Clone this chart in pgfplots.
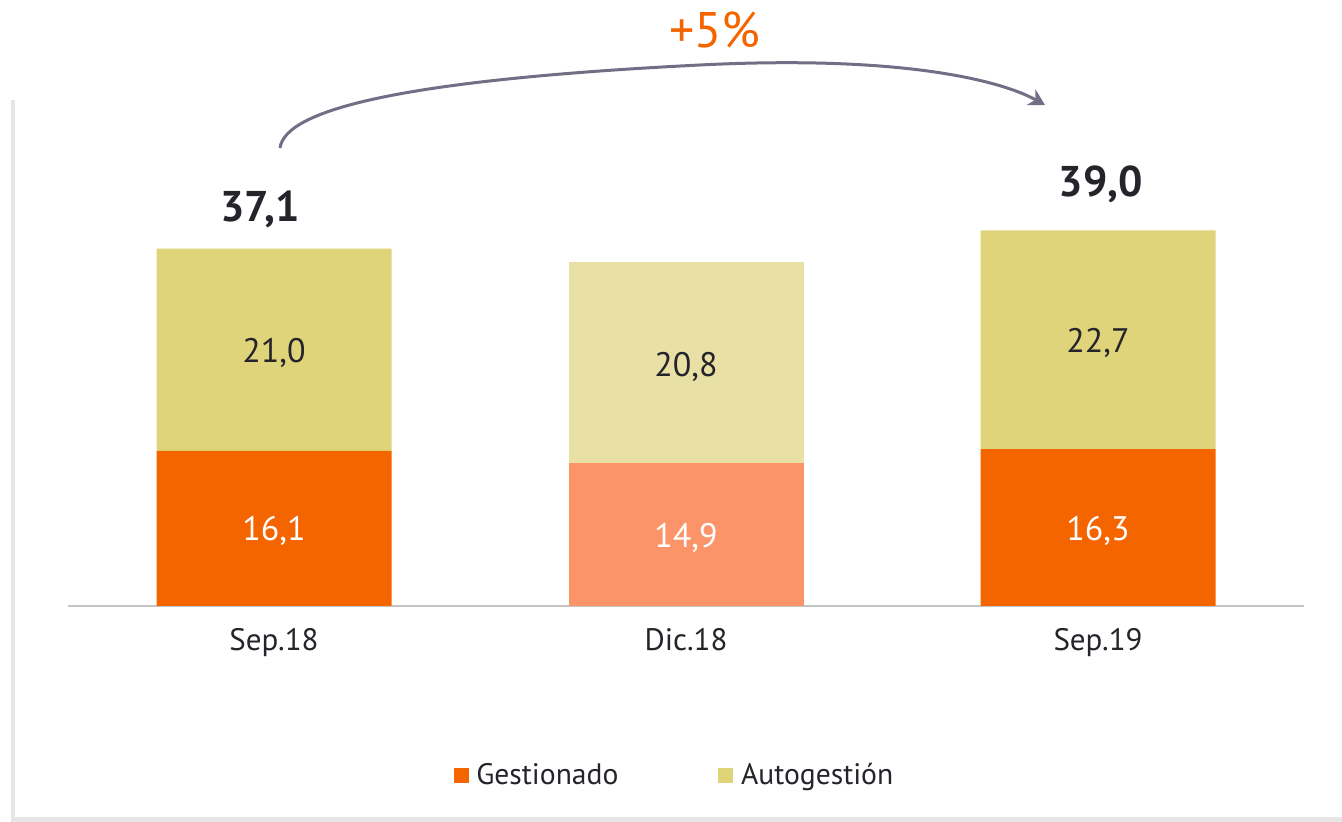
\documentclass[border=0pt]{standalone}
\usepackage{pgfplots}
\pgfplotsset{compat=1.18}
\usepackage{fontspec}
\setmainfont{PT Sans}
\usetikzlibrary{arrows.meta}
\definecolor{orng}{HTML}{F46500}
\definecolor{orngl}{HTML}{FC9469}
\definecolor{yel}{HTML}{E0D47A}
\definecolor{yell}{HTML}{E8E0A4}
\definecolor{txtc}{HTML}{25242B}
\definecolor{axg}{HTML}{C4C4C4}
\definecolor{arrc}{HTML}{716E85}
\definecolor{shadowc}{HTML}{E6E6E6}
\newcommand{\vfont}{\fontsize{17}{19}\selectfont}
\newcommand{\tfont}{\fontsize{21.5}{24}\selectfont\bfseries}
\newcommand{\lfont}{\fontsize{15.5}{18}\selectfont}
\newcommand{\legfont}{\fontsize{14.8}{17}\selectfont}
\begin{document}
\begin{tikzpicture}[x=1pt,y=1pt]
\path (-34,-108) rectangle (637,303);
\fill[shadowc] (-28.5,-108) rectangle (637,253);
\fill[white] (-26.5,-105.5) rectangle (637,255.5);
\begin{axis}[
  at={(0,0)}, anchor=south west,
  scale only axis, width=618pt, height=303pt,
  xmin=-0.5, xmax=2.5, ymin=0, ymax=62.93,
  ybar stacked, bar width=117.5pt,
  axis y line=none, axis x line=bottom,
  x axis line style={-, draw=axg, line width=1pt},
  xtick={0,1,2}, xticklabels={Sep.18,Dic.18,Sep.19},
  major tick length=0pt,
  xticklabel style={anchor=north, inner sep=0pt, yshift=-11pt, text=txtc, font=\lfont},
  ytick=\empty,
  clip=false,
  legend style={at={(0.4915,-0.2789)}, anchor=center, draw=none, fill=none,
    font=\legfont, text=txtc,
    /tikz/every odd column/.append style={column sep=1.8pt},
    /tikz/every even column/.append style={column sep=48pt}},
  legend columns=-1,
  legend image code/.code={\fill (0pt,-3.75pt) rectangle (7.5pt,3.75pt);},
]
\addplot[fill=orng, draw=none] coordinates {(0,16.1) (1,0) (2,16.3)};
\addlegendentry{Gestionado}
\addplot[fill=orngl, draw=none, forget plot] coordinates {(0,0) (1,14.9) (2,0)};
\addplot[fill=yel, draw=none] coordinates {(0,21.0) (1,0) (2,22.7)};
\addlegendentry{Autogestión}
\addplot[fill=yell, draw=none, forget plot] coordinates {(0,0) (1,20.8) (2,0)};

\coordinate (g0) at (axis cs:0,7.8);
\coordinate (g1) at (axis cs:1,7.06);
\coordinate (g2) at (axis cs:2,7.8);
\coordinate (a0) at (axis cs:0,26.3);
\coordinate (a1) at (axis cs:1,24.8);
\coordinate (a2) at (axis cs:2,27.3);
\coordinate (t0) at (axis cs:-0.034,41.2);
\coordinate (t2) at (axis cs:2.007,43.8);
\end{axis}
\node[text=white, font=\vfont] at (g0) {16,1};
\node[text=white, font=\vfont] at (g1) {14,9};
\node[text=white, font=\vfont] at (g2) {16,3};
\node[text=txtc, font=\vfont] at (a0) {21,0};
\node[text=txtc, font=\vfont] at (a1) {20,8};
\node[text=txtc, font=\vfont] at (a2) {22,7};
\node[text=txtc, font=\tfont] at (t0) {37,1};
\node[text=txtc, font=\tfont] at (t2) {39,0};
\draw[arrc, line width=1.5pt, -{Stealth[length=8pt,width=9pt]}]
  (106,229) .. controls (108.5,248) and (166,263) .. (316,270.5)
  .. controls (416,275.5) and (466,263) .. (488.5,250.5);
\node[text=orng, font=\fontsize{25}{28}\selectfont] at (323.5,288) {+5\%};
\end{tikzpicture}
\end{document}
